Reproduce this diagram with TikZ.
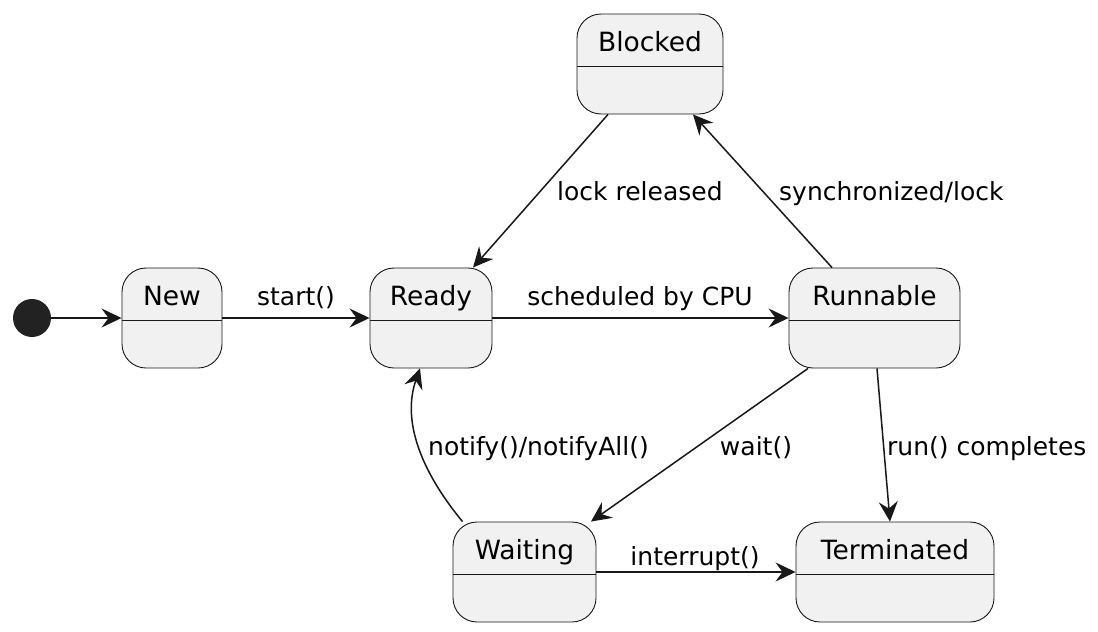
\documentclass[tikz,border=0pt]{standalone}
\usepackage{fontspec}
\setmainfont{DejaVu Sans}
\usetikzlibrary{arrows.meta}
\definecolor{statefill}{HTML}{F1F1F1}
\definecolor{linec}{HTML}{181818}
\definecolor{initc}{HTML}{222222}
\tikzset{
  state/.style={draw=linec, line width=0.9pt, fill=statefill, rounded corners=24pt,
    inner xsep=0pt, inner ysep=0pt, text height=37pt, text depth=63pt,
    font=\fontsize{26.5}{30}\selectfont,
    path picture={\draw[linec, line width=0.9pt]
      ([yshift=-52pt]path picture bounding box.north west) --
      ([yshift=-52pt]path picture bounding box.north east);}},
  trans/.style={draw=linec, line width=1.5pt, -{Stealth[length=20pt, width=19pt, inset=7pt]}},
  lbl/.style={inner sep=0pt, font=\fontsize{25}{30}\selectfont},
}
\begin{document}
\begin{tikzpicture}[x=1pt, y=-1pt]
	\useasboundingbox (0,0) rectangle (1098,632);
	% states
	\node (init) at (32, 318) [circle, fill=initc, minimum size=38pt, inner sep=0pt] {};
	\node[state, minimum width=100pt] (new) at (172, 318) {New};
	\node[state, minimum width=122pt] (ready) at (431, 318) {Ready};
	\node[state, minimum width=171pt] (runnable) at (874.5, 318) {Runnable};
	\node[state, minimum width=146pt] (blocked) at (650, 64) {Blocked};
	\node[state, minimum width=143pt] (waiting) at (524.5, 572) {Waiting};
	\node[state, minimum width=198pt] (terminated) at (895, 572) {Terminated};

	% transition labels
	\node[lbl, anchor=base] (lstart) at (296, 305) {start()};
	\node[lbl, anchor=base] (lsched) at (640, 305) {scheduled by CPU};
	\node[lbl, anchor=base west] (llock) at (557, 200) {lock released};
	\node[lbl, anchor=base west] (lsync) at (779, 200) {synchronized/lock};
	\node[lbl, anchor=base west] (lnotify) at (428, 455) {notify()/notifyAll()};
	\node[lbl, anchor=base] (lwait) at (756, 455) {wait()};
	\node[lbl, anchor=base west] (lrun) at (887, 455) {run() completes};
	\node[lbl, anchor=base] (lintr) at (695, 565) {interrupt()};

	\path (init) edge[trans] (new)
	(new) edge[trans] (ready)
	(ready) edge[trans] (runnable)
	([xshift=-42pt]blocked.south) edge[trans] ([xshift=42pt]ready.north)
	([xshift=-42.5pt]runnable.north) edge[trans] ([xshift=43pt]blocked.south)
	([xshift=-66.5pt]runnable.south) edge[trans] ([xshift=66.5pt]waiting.north)
	([xshift=2.5pt]runnable.south) edge[trans] ([xshift=-5pt]terminated.north)
	(waiting) edge[trans] (terminated);
	\draw[trans] ([xshift=-62pt]waiting.north) .. controls (420, 470) and (402, 420) .. ([xshift=-11pt]ready.south);
\end{tikzpicture}
\end{document}
